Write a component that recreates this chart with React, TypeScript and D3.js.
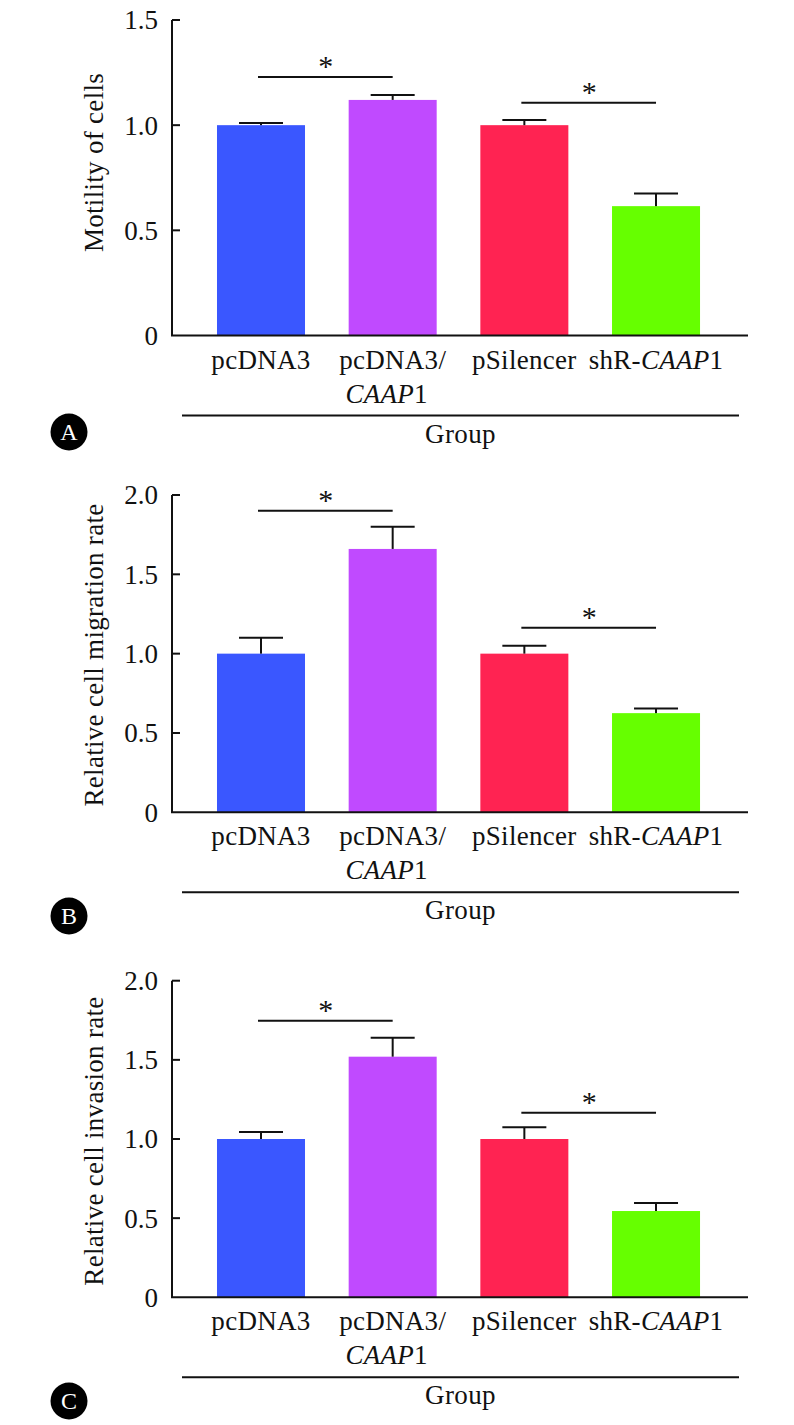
import React from 'react';
import * as d3 from 'd3';

// ---------- data ----------
const categories = ['pcDNA3', 'pcDNA3/CAAP1', 'pSilencer', 'shR-CAAP1'];
const barColors = ['#3A57FF', '#C04AFF', '#FF2352', '#66FF00'];

// label lines: each line is a list of [text, italic]
const categoryLabelLines: [string, boolean][][][] = [
  [[['pcDNA3', false]]],
  [[['pcDNA3/', false]], [['CAAP', true], ['1', false]]],
  [[['pSilencer', false]]],
  [[['shR-', false], ['CAAP', true], ['1', false]]],
];

const motilityValues = [1.0, 1.12, 1.0, 0.615];
const motilityErrors = [0.01, 0.024, 0.025, 0.06];
const migrationValues = [1.0, 1.66, 1.0, 0.625];
const migrationErrors = [0.1, 0.14, 0.05, 0.03];
const invasionValues = [1.0, 1.52, 1.0, 0.545];
const invasionErrors = [0.045, 0.12, 0.075, 0.05];

const ticksA = [0, 0.5, 1.0, 1.5];
const ticksBC = [0, 0.5, 1.0, 1.5, 2.0];

const sigA = [{ from: 0, to: 1, y: 1.229 }, { from: 2, to: 3, y: 1.106 }];
const sigB = [{ from: 0, to: 1, y: 1.901 }, { from: 2, to: 3, y: 1.164 }];
const sigC = [{ from: 0, to: 1, y: 1.747 }, { from: 2, to: 3, y: 1.166 }];

const panelLetters = ['A', 'B', 'C'];
const yTitles = ['Motility of cells', 'Relative cell migration rate', 'Relative cell invasion rate'];
const groupTitle = 'Group';

// ---------- layout ----------
const FONT = "'Liberation Serif', 'Times New Roman', serif";
const FS = 27;
const AXIS_X0 = 172;
const AXIS_X1 = 748;

const panels = [
  { values: motilityValues, errors: motilityErrors, ticks: ticksA, max: 1.5, top: 20, zero: 335.5, sig: sigA, titleY: 162.5, circleY: 432 },
  { values: migrationValues, errors: migrationErrors, ticks: ticksBC, max: 2.0, top: 495, zero: 812.3, sig: sigB, titleY: 655, circleY: 916 },
  { values: invasionValues, errors: invasionErrors, ticks: ticksBC, max: 2.0, top: 980.7, zero: 1297.3, sig: sigC, titleY: 1141, circleY: 1401 },
];

const x = d3
  .scaleBand<string>()
  .domain(categories)
  .range([AXIS_X0, AXIS_X1])
  .paddingInner(0.3316)
  .paddingOuter(0.353)
  .align(0.484);

const fmt = (v: number) => (v === 0 ? '0' : d3.format('.1f')(v));

function Panel({ p, idx }: { p: typeof panels[number]; idx: number }) {
  const y = d3.scaleLinear().domain([0, p.max]).range([p.zero, p.top]);
  const bw = x.bandwidth();
  const cx = (i: number) => (x(categories[i]) as number) + bw / 2;
  const stroke = '#111';
  return (
    <g>
      {/* bars */}
      {p.values.map((v, i) => (
        <rect key={'b' + i} x={x(categories[i])} y={y(v)} width={bw} height={y(0) - y(v)} fill={barColors[i]} />
      ))}
      {/* error bars */}
      {p.values.map((v, i) => (
        <g key={'e' + i} stroke={stroke} strokeWidth={2}>
          <line x1={cx(i)} x2={cx(i)} y1={y(v)} y2={y(v + p.errors[i])} />
          <line x1={cx(i) - 22} x2={cx(i) + 22} y1={y(v + p.errors[i])} y2={y(v + p.errors[i])} />
        </g>
      ))}
      {/* y axis */}
      <line x1={AXIS_X0} x2={AXIS_X0} y1={y(p.max)} y2={y(0)} stroke={stroke} strokeWidth={2} />
      {p.ticks.map((t) => (
        <g key={'t' + t}>
          {t > 0 && <line x1={AXIS_X0} x2={AXIS_X0 + 8} y1={y(t)} y2={y(t)} stroke={stroke} strokeWidth={2} />}
          <text x={AXIS_X0 - 14} y={y(t)} dy="0.35em" textAnchor="end" fontFamily={FONT} fontSize={FS} fill="#111">
            {fmt(t)}
          </text>
        </g>
      ))}
      {/* x axis */}
      <line x1={AXIS_X0 - 1} x2={AXIS_X1} y1={y(0)} y2={y(0)} stroke={stroke} strokeWidth={2} />
      {/* y title */}
      <text
        transform={`translate(103, ${p.titleY}) rotate(-90)`}
        textAnchor="middle"
        fontFamily={FONT}
        fontSize={FS}
        letterSpacing={0.3}
        fill="#111"
      >
        {yTitles[idx]}
      </text>
      {/* category labels */}
      {categoryLabelLines.map((lines, i) =>
        lines.map((parts, li) => (
          <text
            key={'l' + i + '-' + li}
            x={cx(i) + (li === 1 ? -6 : 0)}
            y={p.zero + 33 + li * 34}
            textAnchor="middle"
            fontFamily={FONT}
            fontSize={FS}
            letterSpacing={0.3}
            fill="#111"
          >
            {parts.map(([txt, it], k) => (
              <tspan key={k} fontStyle={it ? 'italic' : 'normal'}>
                {txt}
              </tspan>
            ))}
          </text>
        ))
      )}
      {/* group line + title */}
      <line x1={182} x2={739} y1={p.zero + 80} y2={p.zero + 80} stroke={stroke} strokeWidth={2} />
      <text x={460.5} y={p.zero + 107} textAnchor="middle" fontFamily={FONT} fontSize={FS} letterSpacing={0.4} fill="#111">
        {groupTitle}
      </text>
      {/* significance */}
      {p.sig.map((s, k) => (
        <g key={'s' + k}>
          <line x1={cx(s.from) - 3} x2={cx(s.to)} y1={y(s.y)} y2={y(s.y)} stroke={stroke} strokeWidth={2} />
          <text x={(cx(s.from) + cx(s.to)) / 2 - 1} y={y(s.y) - 1} textAnchor="middle" fontFamily={FONT} fontSize={30} fill="#111">
            *
          </text>
        </g>
      ))}
      {/* panel letter */}
      <circle cx={69} cy={p.circleY} r={18.5} fill="#000" />
      <text x={69} y={p.circleY} dy="0.35em" textAnchor="middle" fontFamily={FONT} fontSize={24} fill="#fff">
        {panelLetters[idx]}
      </text>
    </g>
  );
}

export default function App() {
  return (
    <svg
      width={794}
      height={1425}
      viewBox="0 0 794 1425"
      style={{ position: 'absolute', left: 0, top: 0, display: 'block', background: '#fff' }}
    >
      <rect x={0} y={0} width={794} height={1425} fill="#fff" />
      {panels.map((p, i) => (
        <Panel key={i} p={p} idx={i} />
      ))}
    </svg>
  );
}
